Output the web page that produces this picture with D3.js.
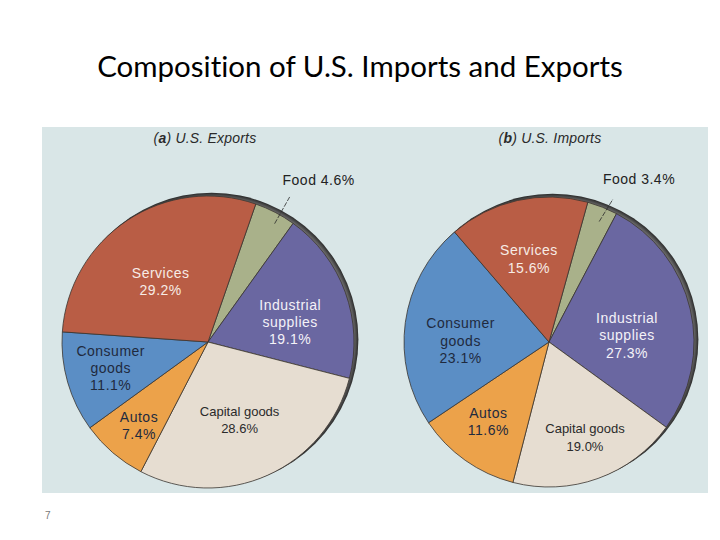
<!DOCTYPE html>
<html>
<head>
<meta charset="utf-8">
<script src="https://cdn.jsdelivr.net/npm/d3@7"></script>
<style>
  body { margin: 0; background: #fff; }
  svg { display: block; }
</style>
</head>
<body>
<script>
var w = 720;
var h = 540;

// data
var categories = ["Food", "Industrial supplies", "Capital goods", "Autos", "Consumer goods", "Services"];
var exportsPct = [4.6, 19.1, 28.6, 7.4, 11.1, 29.2];
var importsPct = [3.4, 27.3, 19.0, 11.6, 23.1, 15.6];
var labelLines = [["Food"], ["Industrial", "supplies"], ["Capital goods"], ["Autos"], ["Consumer", "goods"], ["Services"]];

var colors = {
    "Food": "#a9b18a",
    "Industrial supplies": "#6a67a1",
    "Capital goods": "#e6ddd1",
    "Autos": "#eca24a",
    "Consumer goods": "#5b8ec5",
    "Services": "#b95d45"
};
var textColor = {
    "Food": "#222",
    "Industrial supplies": "#f4f2f8",
    "Capital goods": "#2a2a2a",
    "Autos": "#1f2a3e",
    "Consumer goods": "#1f2a3e",
    "Services": "#f7ece6"
};

var svg = d3.select("body").append("svg")
    .attr("width", w)
    .attr("height", h);

// rim gradient
var defs = svg.append("defs");
var grad = defs.append("radialGradient").attr("id", "rim");
grad.append("stop").attr("offset", "0.92").attr("stop-color", "#b8b8b8");
grad.append("stop").attr("offset", "0.97").attr("stop-color", "#6a6a6a");
grad.append("stop").attr("offset", "1").attr("stop-color", "#2a2a2a");

svg.append("text")
    .attr("x", 360)
    .attr("y", 77)
    .attr("text-anchor", "middle")
    .style("font-family", "Lato, 'Open Sans', sans-serif")
    .style("font-size", "29.5px")
    .style("font-variant-ligatures", "none")
    .style("fill", "#000")
    .text("Composition of U.S. Imports and Exports");

svg.append("rect")
    .attr("x", 42).attr("y", 127)
    .attr("width", 666).attr("height", 366)
    .attr("fill", "#d9e6e7");

svg.append("text")
    .attr("x", 45).attr("y", 519)
    .style("font-family", "'Liberation Sans', sans-serif")
    .style("font-size", "10px")
    .style("fill", "#777")
    .text("7");

var deg = Math.PI / 180;

// label placement: [radius fraction, angle shift in degrees]
var exportPlace = [null, [0.58, 6], [0.575, 2], [0.74, -1], [0.69, 1], [0.526, -4.6]];
var importPlace = [null, [0.54, 8], [0.70, -1], [0.69, 2], [0.61, -7], [0.59, -1]];

function drawPie(values, opt) {
    var g = svg.append("g").attr("transform", "translate(" + opt.cx + "," + opt.cy + ")");

    g.append("circle")
        .attr("cx", 3.6).attr("cy", -2.4)
        .attr("r", opt.r + 0.8)
        .attr("fill", "url(#rim)");

    var arcs = d3.pie().sort(null).value(function(d) { return d.value; })
        .startAngle(opt.start * deg)
        .endAngle(opt.start * deg + 2 * Math.PI)(values.map(function(v, i) { return { cat: categories[i], value: v, i: i }; }));

    var arc = d3.arc().innerRadius(0).outerRadius(opt.r);

    g.selectAll(".slice")
        .data(arcs)
        .enter().append("path")
        .attr("class", "slice")
        .attr("d", arc)
        .attr("fill", function(d) { return colors[d.data.cat]; })
        .attr("stroke", "#3a3530")
        .attr("stroke-width", 0.8)
        .attr("stroke-linejoin", "round");

    arcs.forEach(function(d) {
        var i = d.data.i;
        var pct = d.value.toFixed(1) + "%";
        if (i === 0) {
            // outside label with leader
            var L = opt.leader;
            var a1 = (d.startAngle + d.endAngle) / 2 + L[2] * deg;
            var a2 = (d.startAngle + d.endAngle) / 2 + L[3] * deg;
            var p1 = [Math.sin(a1) * opt.r * L[0], -Math.cos(a1) * opt.r * L[0]];
            var p2 = [Math.sin(a2) * opt.r * L[1], -Math.cos(a2) * opt.r * L[1]];
            g.append("line")
                .attr("x1", p1[0]).attr("y1", p1[1])
                .attr("x2", p2[0]).attr("y2", p2[1])
                .attr("stroke", "#2a2a2a")
                .attr("stroke-width", 0.8)
                .attr("stroke-dasharray", "5,1.5");
            g.append("text")
                .attr("x", p2[0] + L[4])
                .attr("y", p2[1] + L[5])
                .attr("text-anchor", "middle")
                .style("font-family", "'Liberation Sans', Arial, sans-serif")
                .style("font-size", "14px")
                .style("letter-spacing", "0.5px")
                .style("fill", "#222")
                .text(labelLines[i][0] + " " + pct);
            return;
        }
        var pl = opt.place[i];
        var a = (d.startAngle + d.endAngle) / 2 + pl[1] * deg;
        var lx = Math.sin(a) * opt.r * pl[0];
        var ly = -Math.cos(a) * opt.r * pl[0];
        var lines = labelLines[i].concat([pct]);
        var small = d.data.cat === "Capital goods";
        var lh = opt.lh;
        var t = g.append("text")
            .attr("text-anchor", "middle")
            .style("font-family", "'Liberation Sans', Arial, sans-serif")
            .style("font-size", small ? "13px" : "14px")
            .style("letter-spacing", small ? "0px" : "0.5px")
            .style("fill", textColor[d.data.cat]);
        lines.forEach(function(s, k) {
            t.append("tspan")
                .attr("x", lx)
                .attr("y", ly + (k - (lines.length - 1) / 2) * lh + 5)
                .text(s);
        });
    });

    var sub = svg.append("text")
        .attr("x", opt.subX).attr("y", 143)
        .attr("text-anchor", "middle")
        .style("font-family", "'Liberation Sans', Arial, sans-serif")
        .style("font-size", "14px")
        .style("font-style", "italic")
        .style("letter-spacing", "0.2px")
        .style("fill", "#2a2a2a");
    sub.append("tspan").text("(");
    sub.append("tspan").style("font-weight", "bold").text(opt.letter);
    sub.append("tspan").text(") " + opt.title);
}

drawPie(exportsPct, { cx: 208, cy: 342, r: 146, start: 19.1, place: exportPlace, lh: 17,
    leader: [0.93, 1.14, 2, 2, 29, -12], subX: 205, letter: "a", title: "U.S. Exports" });
drawPie(importsPct, { cx: 549, cy: 342, r: 145, start: 15.5, place: importPlace, lh: 17.5,
    leader: [0.9, 1.08, 1, 2.5, 26, -15], subX: 550, letter: "b", title: "U.S. Imports" });
</script>
</body>
</html>
